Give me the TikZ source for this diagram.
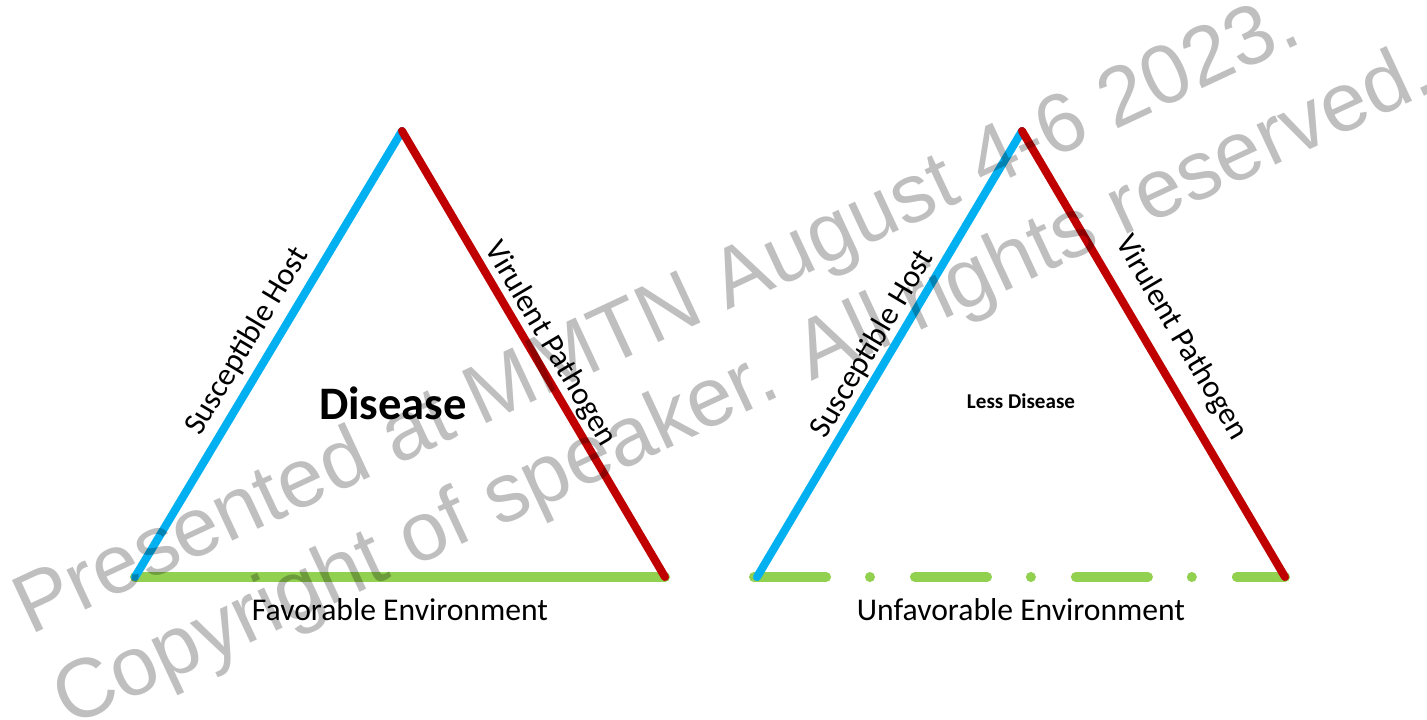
\documentclass[tikz,border=0pt]{standalone}
\usepackage{fontspec}
\setmainfont{Carlito}
\newfontfamily\markfont{Liberation Sans}
\usetikzlibrary{positioning}

\definecolor{hostblue}{RGB}{0,176,240}
\definecolor{pathred}{RGB}{192,0,0}
\definecolor{envgreen}{RGB}{146,208,80}

\begin{document}
\begin{tikzpicture}[
  x=0.02cm, y=-0.02cm,
  side/.style={line width=4.6pt, line cap=round},
  host/.style={side, draw=hostblue},
  pathogen/.style={side, draw=pathred},
  envline/.style={line width=5.7pt, line cap=round, draw=envgreen},
  poorenv/.style={envline, dash pattern=on 41pt off 25pt on 0pt off 25.6pt},
  lbl/.style={font=\fontsize{18}{21}\selectfont, sloped, above, inner sep=4pt},
  envlbl/.style={font=\fontsize{18}{21}\selectfont, anchor=base, yshift=-24.5pt},
  big/.style={font=\bfseries\fontsize{26.5}{30}\selectfont},
  small/.style={font=\bfseries\fontsize{12}{14}\selectfont},
  wmark/.style={font=\markfont\fontsize{47.5}{50}\selectfont, text=black, text opacity=0.25,
                rotate=25, anchor=base west, inner sep=0pt}
]
\path[use as bounding box, fill=white] (0,0) rectangle (1427,720);

% left triangle
\coordinate (lb) at (135,577);
\coordinate (lt) at (402,131);
\coordinate (lr) at (665,577);
\draw[envline] (lb) -- node[envlbl] (envL) {Favorable Environment} (lr);
\draw[host] (lb) -- node[lbl] (hostL) {Susceptible Host} (lt);
\draw[pathogen] (lt) -- node[lbl, inner sep=1pt] (pathL) {Virulent Pathogen} (lr);
\node[big] (disL) at (393,403) {Disease};

% right triangle, broken base
\coordinate (rb) at (757,577);
\coordinate (rt) at (1022,131);
\coordinate (rr) at (1285,577);
\coordinate (rs) at (754,577);
\draw[poorenv] (rs) -- (rr);
\path (rb) -- node[envlbl] (envR) {Unfavorable Environment} (rr);
\draw[host] (rb) -- node[lbl, inner sep=1pt] (hostR) {Susceptible Host} (rt);
\draw[pathogen] (rt) -- node[lbl, inner sep=8pt] (pathR) {Virulent Pathogen} (rr);
\node[small] (disR) at (1021,401) {Less Disease};

% overlay lines
\node[wmark] (markA) at (30,636) {Presented at MMTN August 4-6 2023.};
\node[wmark] (markB) at (69,728) {Copyright of speaker. All rights reserved.};
\end{tikzpicture}
\end{document}
